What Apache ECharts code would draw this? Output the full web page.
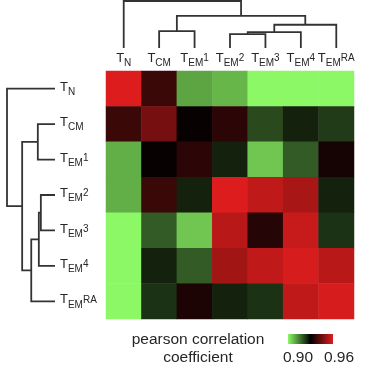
<!DOCTYPE html>
<html><head><meta charset="utf-8">
<script src="https://cdn.jsdelivr.net/npm/echarts@6/dist/echarts.min.js"></script>
<style>html,body{margin:0;padding:0;background:#fff}#c{width:383px;height:371px}</style>
</head><body><div id="c"></div>
<script>
// ---- data ----
const categories = ['TN', 'TCM', 'TEM1', 'TEM2', 'TEM3', 'TEM4', 'TEMRA'];
const labelMain = ['T', 'T', 'T', 'T', 'T', 'T', 'T'];
const labelSub = ['N', 'CM', 'EM', 'EM', 'EM', 'EM', 'EM'];
const labelSup = ['', '', '1', '2', '3', '4', 'RA'];

// pearson correlation, rows (top->bottom) x columns (left->right)
const rowTN    = [0.960, 0.938, 0.910, 0.908, 0.900, 0.900, 0.900];
const rowTCM   = [0.938, 0.946, 0.931, 0.936, 0.921, 0.926, 0.923];
const rowTEM1  = [0.909, 0.931, 0.936, 0.926, 0.906, 0.919, 0.933];
const rowTEM2  = [0.909, 0.938, 0.926, 0.960, 0.956, 0.953, 0.926];
const rowTEM3  = [0.900, 0.919, 0.906, 0.955, 0.935, 0.957, 0.924];
const rowTEM4  = [0.900, 0.926, 0.919, 0.952, 0.956, 0.959, 0.955];
const rowTEMRA = [0.900, 0.924, 0.934, 0.926, 0.924, 0.956, 0.959];
const matrixRows = [rowTN, rowTCM, rowTEM1, rowTEM2, rowTEM3, rowTEM4, rowTEMRA];

// hierarchical clustering (leaf indices 0..6, new nodes 7..)
const mergePairs = [[3, 4], [7, 5], [8, 6], [1, 2], [10, 9], [0, 11]];
const mergeHeights = [14, 16, 23.5, 17, 32.5, 47.5];

const colorMin = 0.90;
const colorMax = 0.96;
const colorTickLabels = ['0.90', '0.96'];
const legendTitle = ['pearson correlation', 'coefficient'];

// ---- chart ----
const FONT = '"Liberation Sans", Arial, sans-serif';
const TXT = '#262626';
const LINE = '#333333';
const scaleColors = ['#8cf865', '#000000', '#dd1d1d'];

const heatData = [];
matrixRows.forEach((row, r) => row.forEach((v, c) => heatData.push([c, r, v])));

function dendroData() {
  const pos = categories.map((_, i) => i);
  const hgt = categories.map(() => 0);
  const out = [];
  mergePairs.forEach((p, k) => {
    const a = p[0], b = p[1], h = mergeHeights[k];
    out.push([pos[a], pos[b], hgt[a], hgt[b], h]);
    pos.push((pos[a] + pos[b]) / 2);
    hgt.push(h);
  });
  return out;
}
const dData = dendroData();

function makeRender(horizontal) {
  return function (params, api) {
    const pa = api.value(0), pb = api.value(1), ha = api.value(2), hb = api.value(3), h = api.value(4);
    const raw = [[pa, ha], [pa, h], [pb, h], [pb, hb]];
    const pts = raw.map(v => horizontal ? api.coord([v[1], v[0]]) : api.coord(v));
    return { type: 'polyline', shape: { points: pts }, style: { stroke: LINE, lineWidth: 1.8, fill: null } };
  };
}

function fmtLabel(v) {
  const i = categories.indexOf(v);
  let s = '{t|' + labelMain[i] + '}{sub|' + labelSub[i] + '}';
  if (labelSup[i]) s += '{sup|' + labelSup[i] + '}';
  return s;
}
const rich = {
  t: { fontSize: 13, lineHeight: 20, fontFamily: FONT, color: TXT, verticalAlign: 'middle' },
  sub: { fontSize: 10, lineHeight: 12, fontFamily: FONT, color: TXT, verticalAlign: 'bottom' },
  sup: { fontSize: 10, lineHeight: 12, fontFamily: FONT, color: TXT, verticalAlign: 'middle' }
};

const HM = { left: 106, top: 71, width: 248, height: 248 };

const chart = echarts.init(document.getElementById('c'), null, { renderer: 'canvas' });
chart.setOption({
  animation: false,
  backgroundColor: '#ffffff',
  grid: [
    { left: HM.left, top: HM.top, width: HM.width, height: HM.height },
    { left: HM.left, top: 1, width: HM.width, height: 47 },
    { left: 7, top: HM.top, width: 48, height: HM.height }
  ],
  xAxis: [
    { gridIndex: 0, type: 'category', data: categories, position: 'top',
      axisLine: { show: false }, axisTick: { show: false }, splitLine: { show: false },
      axisLabel: { interval: 0, margin: 3, formatter: fmtLabel, rich: rich } },
    { gridIndex: 1, type: 'value', min: -0.5, max: 6.5, show: false },
    { gridIndex: 2, type: 'value', min: 0, max: 47.5, inverse: true, show: false }
  ],
  yAxis: [
    { gridIndex: 0, type: 'category', data: categories, inverse: true,
      axisLine: { show: false }, axisTick: { show: false }, splitLine: { show: false },
      axisLabel: { interval: 0, margin: 46, align: 'left', padding: [0, 0, 3, 0], formatter: fmtLabel, rich: rich } },
    { gridIndex: 1, type: 'value', min: 0, max: 47.5, show: false },
    { gridIndex: 2, type: 'value', min: -0.5, max: 6.5, inverse: true, show: false }
  ],
  visualMap: {
    show: false, type: 'continuous', seriesIndex: 0,
    min: colorMin, max: colorMax, inRange: { color: scaleColors }
  },
  series: [
    { type: 'heatmap', xAxisIndex: 0, yAxisIndex: 0, data: heatData,
      itemStyle: { borderWidth: 0 }, emphasis: { disabled: true } },
    { type: 'custom', xAxisIndex: 1, yAxisIndex: 1, clip: false, silent: true,
      renderItem: makeRender(false), data: dData },
    { type: 'custom', xAxisIndex: 2, yAxisIndex: 2, clip: false, silent: true,
      renderItem: makeRender(true), data: dData }
  ],
  graphic: [
    { type: 'text', style: { text: legendTitle[0], x: 198, y: 339.5, align: 'center', verticalAlign: 'middle',
        font: '15.5px ' + FONT, fill: TXT } },
    { type: 'text', style: { text: legendTitle[1], x: 198, y: 357.5, align: 'center', verticalAlign: 'middle',
        font: '15.5px ' + FONT, fill: TXT } },
    { type: 'rect', shape: { x: 288, y: 334, width: 45, height: 10 },
      style: { fill: new echarts.graphic.LinearGradient(0, 0, 1, 0, [
        { offset: 0, color: scaleColors[0] }, { offset: 0.5, color: scaleColors[1] }, { offset: 1, color: scaleColors[2] }]) } },
    { type: 'text', style: { text: colorTickLabels[0], x: 298, y: 357.5, align: 'center', verticalAlign: 'middle',
        font: '15.5px ' + FONT, fill: TXT } },
    { type: 'text', style: { text: colorTickLabels[1], x: 339, y: 357.5, align: 'center', verticalAlign: 'middle',
        font: '15.5px ' + FONT, fill: TXT } }
  ]
});
</script></body></html>
